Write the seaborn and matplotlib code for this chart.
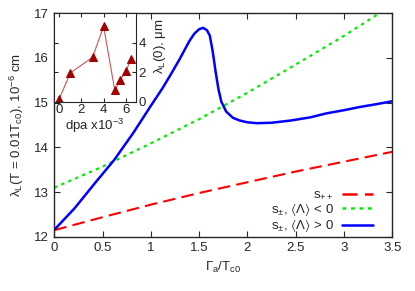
import pandas as pd
import matplotlib
matplotlib.use('Agg')
import matplotlib.pyplot as plt
import seaborn as sns

# main curves: lambda_L(T=0.01Tc0) in 1e-6 cm vs Gamma_a/Tc0
x_pp = [0.0, 0.5, 1.0, 1.5, 2.0, 2.5, 3.0, 3.5]
y_pp = [12.15, 12.44, 12.72, 12.98, 13.22, 13.46, 13.68, 13.9]

x_neg = [0.0, 0.5, 1.0, 1.5, 2.0, 2.5, 3.0, 3.5]
y_neg = [13.1, 13.57, 14.09, 14.63, 15.22, 15.85, 16.49, 17.18]

x_pos = [0.0, 0.21, 0.42, 0.62, 0.82, 1.0, 1.12, 1.22, 1.3, 1.4, 1.45, 1.5,
         1.54, 1.58, 1.61, 1.64, 1.67, 1.7, 1.73, 1.78, 1.85, 1.92, 2.0,
         2.1, 2.25, 2.45, 2.65, 2.82, 3.0, 3.16, 3.35, 3.5]
y_pos = [12.16, 12.64, 13.2, 13.72, 14.33, 14.93, 15.32, 15.68, 15.98, 16.38,
         16.54, 16.64, 16.67, 16.62, 16.5, 16.15, 15.7, 15.3, 15.02, 14.8,
         14.66, 14.6, 14.56, 14.54, 14.55, 14.6, 14.67, 14.76, 14.83, 14.9,
         14.97, 15.03]

# inset: lambda_L(0) in um vs dpa x1e-3
dpa = [0, 1, 3, 4, 5, 5.5, 6, 6.5]
lam0 = [0.2, 1.95, 3.0, 5.1, 0.8, 1.43, 2.07, 2.88]

sns.set_style('ticks')
plt.rcParams['font.family'] = ['Liberation Sans', 'DejaVu Sans']
plt.rcParams['font.size'] = 9.5
plt.rcParams['mathtext.default'] = 'regular'
plt.rcParams['xtick.direction'] = 'in'
plt.rcParams['ytick.direction'] = 'in'

fig = plt.figure(figsize=(4.15, 2.91), dpi=100)
ax = fig.add_axes([0.131, 0.186, 0.814, 0.769])

sns.lineplot(x=x_pp, y=y_pp, ax=ax, color='#ff0000', lw=1.5,
             label='s$_{++}$').lines[-1].set_dashes((6, 3))
sns.lineplot(x=x_neg, y=y_neg, ax=ax, color='#00ee00', lw=1.6,
             label='s$_{\\pm}$, $\\langle\\Lambda\\rangle$ < 0').lines[-1].set_dashes((1.5, 1.9))
sns.lineplot(x=x_pos, y=y_pos, ax=ax, color='#0000ff', lw=1.8,
             label='s$_{\\pm}$, $\\langle\\Lambda\\rangle$ > 0')

ax.set_xlim(0, 3.5)
ax.set_ylim(12, 17)
ax.set_xticks([0, 0.5, 1, 1.5, 2, 2.5, 3, 3.5])
ax.set_xticklabels(['0', '0.5', '1', '1.5', '2', '2.5', '3', '3.5'])
ax.set_yticks([12, 13, 14, 15, 16, 17])
ax.tick_params(top=True, right=True, length=4, width=0.8, pad=4)
for s in ax.spines.values():
    s.set_linewidth(1.0)
ax.set_xlabel('Γ$_a$/T$_{c0}$')
ax.set_ylabel('λ$_L$(T = 0.01T$_{c0}$), 10$^{-6}$ cm', labelpad=6)

leg = ax.legend(loc='lower right', frameon=False, markerfirst=False,
                handlelength=2.4, labelspacing=-0.05, borderaxespad=0.4,
                handletextpad=0.6, bbox_to_anchor=(0.975, -0.035))
for h in leg.get_lines():
    h.set_linewidth(1.8)

ins = fig.add_axes([0.131, 0.651, 0.196, 0.304])
sns.lineplot(x=dpa, y=lam0, ax=ins, color='#cc5555', lw=0.8,
             marker='^', markersize=6, markerfacecolor='#a00000',
             markeredgecolor='#a00000')
ins.set_xlim(-0.45, 6.9)
ins.set_ylim(0, 6)
ins.set_xticks([0, 2, 4, 6])
ins.set_yticks([0, 2, 4])
ins.yaxis.tick_right()
ins.tick_params(top=True, left=True, right=True, length=3, width=0.8, pad=2)
ins.set_xlabel('dpa x10$^{-3}$', labelpad=0)
ins.yaxis.set_label_position('right')
ins.set_ylabel('λ$_L$(0), μm')
ins.yaxis.set_label_coords(1.2, 0.63)
ins.set_facecolor('white')

fig.savefig('out.png', dpi=100)
